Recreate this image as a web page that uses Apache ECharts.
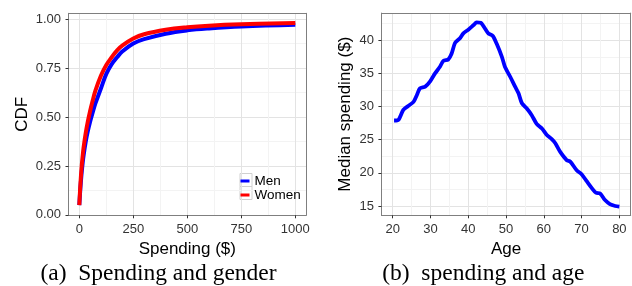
<!DOCTYPE html>
<html>
<head>
<meta charset="utf-8">
<script src="https://cdn.jsdelivr.net/npm/echarts@6.0.0/dist/echarts.min.js"></script>
<style>
  html, body { margin: 0; padding: 0; background: #fff; }
  #chart { width: 632px; height: 286px; }
</style>
</head>
<body>
<div id="chart"></div>
<script>
// (a) CDF of spending by gender
const spending = [0, 5, 10, 15, 20, 30, 40, 50, 60, 75, 100, 125, 150, 175, 200, 250, 300, 400, 500, 600, 750, 1000]
const cdfMen   = [0.05, 0.135, 0.205, 0.26, 0.305, 0.375, 0.43, 0.475, 0.515, 0.57, 0.645, 0.72, 0.77, 0.805, 0.835, 0.875, 0.897, 0.925, 0.942, 0.952, 0.962, 0.971]
const cdfWomen = [0.05, 0.155, 0.235, 0.295, 0.345, 0.42, 0.48, 0.53, 0.575, 0.635, 0.71, 0.765, 0.805, 0.84, 0.865, 0.9, 0.922, 0.945, 0.958, 0.966, 0.973, 0.98]
const spendTicks = [0, 250, 500, 750, 1000]
const spendMinor = [125, 375, 625, 875]
const cdfTicks = [0, 0.25, 0.5, 0.75, 1]
const cdfMinor = [0.125, 0.375, 0.625, 0.875]

// (b) median spending by age
const ages = [20.35, 21.5, 22.8, 24.1, 25.5, 26.4, 27.2, 28.6, 29.9, 31.2, 32.5, 33.4, 34.7, 35.6, 36.5, 37.8, 38.7, 40.0, 41.4, 42.2, 43.3, 44.4, 45.3, 46.5, 47.5, 48.9, 49.7, 51.1, 52.4, 53.3, 54.2, 55.5, 56.8, 58.1, 59.5, 60.8, 62.1, 63.0, 64.3, 66.1, 67.0, 68.7, 70.0, 71.4, 72.7, 73.8, 74.9, 76.2, 77.5, 78.9, 80.0]
const medianSpend = [27.9, 28.0, 29.5, 30.1, 30.7, 31.75, 32.75, 33.0, 33.8, 35.0, 36.0, 36.9, 37.1, 38.0, 39.6, 40.3, 41.05, 41.6, 42.3, 42.7, 42.65, 41.8, 41.05, 40.65, 39.5, 37.5, 36.0, 34.5, 33.0, 32.0, 30.5, 29.7, 28.7, 27.4, 26.7, 25.7, 25.1, 24.5, 23.2, 21.9, 21.7, 20.4, 19.8, 18.7, 17.7, 17.0, 16.9, 15.9, 15.3, 15.0, 14.9]
const ageTicks = [20, 30, 40, 50, 60, 70, 80]
const ageMinor = [25, 35, 45, 55, 65, 75]
const medTicks = [15, 20, 25, 30, 35, 40]
const medMinor = [17.5, 22.5, 27.5, 32.5, 37.5, 42.5]

const FONT = 'Liberation Sans, Arial, sans-serif'
const SERIF = '23.5px "Liberation Serif", "Times New Roman", serif'
const BORDER = '#7f7f7f'

// visible axis: border line, ticks, labels, major grid
function mainAxis(gridIndex, min, max, ticks, fmt, name, nameGap, position) {
  return {
    type: 'value', gridIndex, min, max, position,
    name, nameLocation: 'middle', nameGap,
    nameTextStyle: { fontSize: 17, color: '#000', fontFamily: FONT },
    axisLine: { show: true, onZero: false, lineStyle: { color: BORDER, width: 1 } },
    axisTick: { show: true, length: 3, customValues: ticks, lineStyle: { color: '#333' } },
    axisLabel: { customValues: ticks, formatter: fmt, color: '#333', fontSize: 13, margin: 7.5, fontFamily: FONT },
    splitLine: { show: true, lineStyle: { color: '#e3e3e3', width: 1 } },
  }
}

// hidden twin axis: other side of the border + minor grid
function minorAxis(gridIndex, min, max, minor, position) {
  return {
    type: 'value', gridIndex, min, max, position,
    axisLine: { show: true, onZero: false, lineStyle: { color: BORDER, width: 1 } },
    axisTick: { show: false, customValues: minor },
    axisLabel: { show: false },
    splitLine: { show: true, lineStyle: { color: '#f3f3f3', width: 1 } },
  }
}

const chart = echarts.init(document.getElementById('chart'), null, { renderer: 'canvas' })

chart.setOption({
  animation: false,
  backgroundColor: '#fff',
  grid: [
    { left: 68.5, top: 13.3, width: 237.6, height: 202 },
    { left: 381.4, top: 13.1, width: 249.3, height: 202.2 },
  ],
  xAxis: [
    mainAxis(0, -50, 1050, spendTicks, v => String(v), 'Spending ($)', 24, 'bottom'),
    mainAxis(1, 17, 83, ageTicks, v => String(v), 'Age', 24, 'bottom'),
    minorAxis(0, -50, 1050, spendMinor, 'top'),
    minorAxis(1, 17, 83, ageMinor, 'top'),
  ],
  yAxis: [
    mainAxis(0, -0.002, 1.029, cdfTicks, v => v.toFixed(2), 'CDF', 37.5, 'left'),
    mainAxis(1, 13.6, 44.1, medTicks, v => String(v), 'Median spending ($)', 27.4, 'left'),
    minorAxis(0, -0.002, 1.029, cdfMinor, 'right'),
    minorAxis(1, 13.6, 44.1, medMinor, 'right'),
  ],
  legend: {
    data: ['Men', 'Women'],
    orient: 'vertical',
    left: 240.5, top: 174,
    padding: 0,
    itemGap: 0,
    icon: 'rect',
    itemWidth: 9,
    itemHeight: 3,
    textStyle: { fontSize: 13.5, color: '#000', fontFamily: FONT, lineHeight: 13 },
  },
  series: [
    {
      name: 'Men', type: 'line', xAxisIndex: 0, yAxisIndex: 0,
      data: spending.map((s, i) => [s, cdfMen[i]]),
      showSymbol: false, smooth: 0.4,
      lineStyle: { color: '#0000ff', width: 4 }, itemStyle: { color: '#0000ff' },
    },
    {
      name: 'Women', type: 'line', xAxisIndex: 0, yAxisIndex: 0,
      data: spending.map((s, i) => [s, cdfWomen[i]]),
      showSymbol: false, smooth: 0.4,
      lineStyle: { color: '#ff0000', width: 4 }, itemStyle: { color: '#ff0000' },
    },
    {
      name: 'Median', type: 'line', xAxisIndex: 1, yAxisIndex: 1,
      data: ages.map((a, i) => [a, medianSpend[i]]),
      showSymbol: false, smooth: 0.25,
      lineStyle: { color: '#0000ff', width: 3.8 }, itemStyle: { color: '#0000ff' },
    },
  ],
  graphic: [
    // grey key boxes behind legend lines
    { type: 'rect', z: -1, shape: { x: 240, y: 173.5, width: 12, height: 13 }, style: { fill: '#fff', stroke: '#d0d0d0', lineWidth: 1 } },
    { type: 'rect', z: -1, shape: { x: 240, y: 186.5, width: 12, height: 13 }, style: { fill: '#fff', stroke: '#d0d0d0', lineWidth: 1 } },
    // sub-figure captions
    { type: 'text', style: { x: 158.5, y: 274, text: '(a)  Spending and gender', textAlign: 'center', textVerticalAlign: 'middle', font: SERIF, fill: '#000' } },
    { type: 'text', style: { x: 483.3, y: 274, text: '(b)  spending and age', textAlign: 'center', textVerticalAlign: 'middle', font: SERIF, fill: '#000' } },
  ],
})
</script>
</body>
</html>
